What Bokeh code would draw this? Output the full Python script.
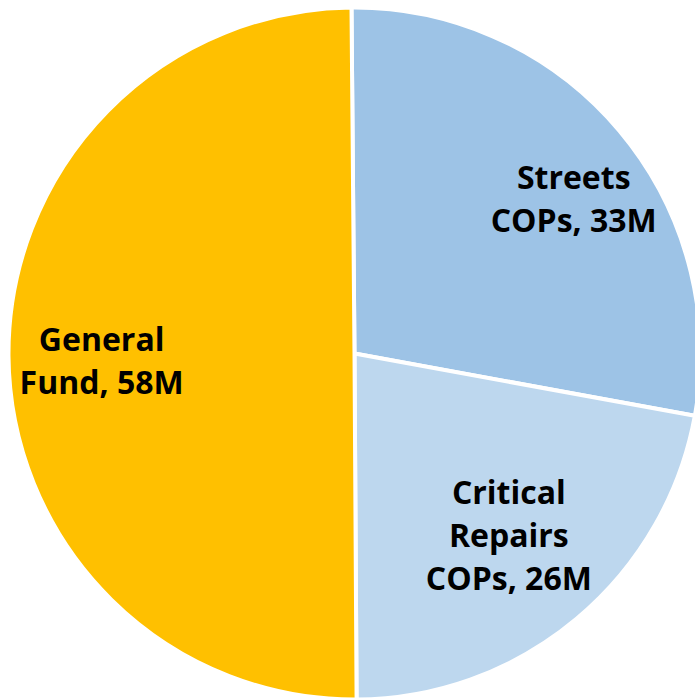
import math
from bokeh.plotting import figure
from bokeh.models import ColumnDataSource
from bokeh.core.properties import value
from bokeh.embed import file_html
from bokeh.resources import INLINE

# ---- data ----
categories = ["Streets COPs", "Critical Repairs COPs", "General Fund"]
label_lines = ["Streets\nCOPs", "Critical\nRepairs\nCOPs", "General\nFund"]
values_m = [32.7, 25.7, 58.3]      # shown rounded: 33M, 26M, 58M
colors = ["#9DC3E6", "#BDD7EE", "#FFC000"]

# ---- layout/style ----
W, H = 695, 698
cx, cy = 354, H - 353
R = 346
start_offset_deg = -0.5          # first slice starts just left of 12 o'clock
label_frac = [0.777, 0.687, 0.731]
label_tweak_deg = [4.7, -0.5, -1.0]

total = sum(values_m)
starts, ends, lx, ly, texts = [], [], [], [], []
acc = start_offset_deg
for i, v in enumerate(values_m):
    sweep = v / total * 360.0
    a0, a1 = acc, acc + sweep
    acc = a1
    starts.append(math.radians(90 - a0))
    ends.append(math.radians(90 - a1))
    mid = (a0 + a1) / 2 + label_tweak_deg[i]
    lx.append(cx + label_frac[i] * R * math.sin(math.radians(mid)))
    ly.append(cy + label_frac[i] * R * math.cos(math.radians(mid)))
    texts.append(f"{label_lines[i]}, {round(v)}M")

src = ColumnDataSource(dict(start=starts, end=ends, color=colors, cat=categories))
lsrc = ColumnDataSource(dict(x=lx, y=ly, text=texts))

p = figure(width=W, height=H, x_range=(0, W), y_range=(0, H),
           output_backend="svg", toolbar_location=None, min_border=0)
p.axis.visible = False
p.grid.visible = False
p.outline_line_color = None
p.background_fill_color = "white"
p.border_fill_color = "white"

p.wedge(x=cx, y=cy, radius=R, start_angle="start", end_angle="end",
        direction="clock", fill_color="color", line_color="white",
        line_width=4, source=src)

p.text(x="x", y="y", text="text", source=lsrc, text_align="center",
       text_baseline="middle", text_font=value("Open Sans"),
       text_font_style="bold", text_font_size=value("32px"),
       text_line_height=1.0, text_color="black")

open("out.html", "w").write(file_html(p, INLINE))
